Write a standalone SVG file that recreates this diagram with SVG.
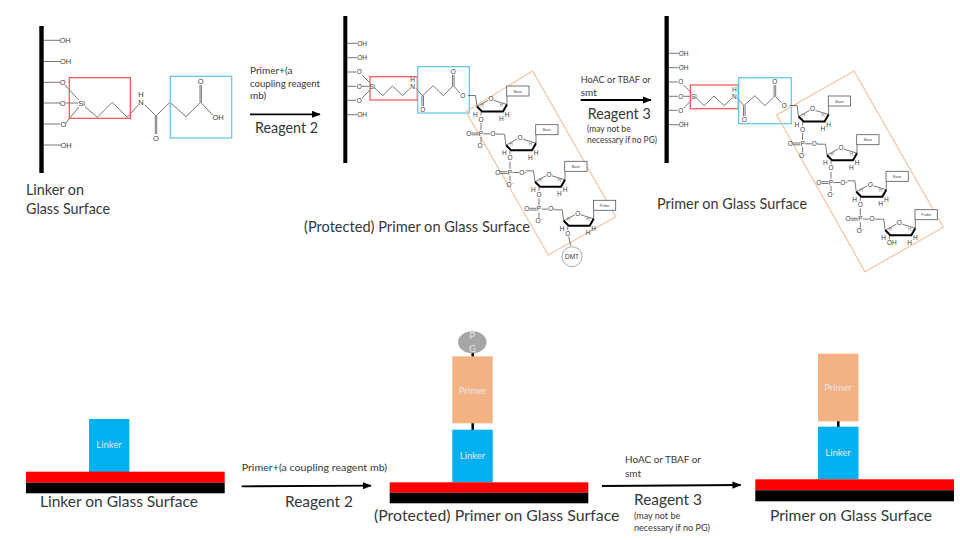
<svg xmlns="http://www.w3.org/2000/svg" xmlns:xlink="http://www.w3.org/1999/xlink" width="960" height="540" viewBox="0 0 960 540">
<style>
text{font-family:"Lato","Liberation Sans",sans-serif;fill:#383838}
.xt{font-size:15px}.xl{font-size:16px}.m{font-size:10px}.s{font-size:8.500px}.s2{font-size:9px}
.c{font-size:6.500px;text-anchor:middle;fill:#3a3a3a;font-family:"Liberation Sans",sans-serif}
.h{font-size:4.500px;text-anchor:middle;fill:#777;font-family:"Liberation Sans",sans-serif}
.lc{font-size:7.500px;text-anchor:middle;fill:#3a3a3a;font-family:"Liberation Sans",sans-serif}
.b{font-size:3.600px;text-anchor:middle;fill:#444;font-family:"Liberation Sans",sans-serif}
.w{font-size:9.500px;text-anchor:middle;fill:#e8e8e8}
.bond{fill:none;stroke:#555;stroke-width:.8}
.bar{fill:#000}
.red{fill:none;stroke:#f05050;stroke-width:1.2}
.blue{fill:none;stroke:#5cc4ee;stroke-width:1.2}
.or{fill:none;stroke:#f4c4a0;stroke-width:1.2}
.arrow{fill:none;stroke:#000;stroke-width:1.800;marker-end:url(#ah)}
</style>
<defs>
<marker id="ah" markerWidth="5" markerHeight="4" refX="4.600" refY="2" orient="auto"><path d="M0,0L5,2L0,4z" fill="#000"/></marker>
<g id="ring">
<path class="bond" d="M-9,-11H-1.500L0,0L11,-6M17,-6L30,-2V-10.500"/>
<path d="M0,0L5,5H26L30,-2" fill="none" stroke="#000" stroke-width="2"/>
<path class="bond" d="M4,5.500V9"/>
<rect x="29.700" y="-20.500" width="22.300" height="10" fill="#fff" stroke="#555" stroke-width=".8"/>
</g>
<path id="po4" class="bond" d="M4,16.500V23.500M4,30.500V36M-5.500,26.500H1.500M-5.500,28.300H1.500M6.500,27.300H13M18.500,27.300H20"/>
<path id="chain" class="bond" d="M347,43.300H357M347,57.700H357M347,72H356M347,86.300H356M347,100.300H356M347,114.700H357M362,75L370,83M362,86.300H369M362,98L370,90M375,88.300L382.700,95.700L392.300,86L402.700,95.700L410,88.300M416,88.300L422.300,95.700L433.300,85.700L443.300,95.700L453.300,85.700L460,93M452.500,85.700V75M454.100,85.700V75M421.900,95.700V106M423.500,95.700V106"/>
</defs>

<g id="connectors">
<path class="arrow" d="M250,114.300H320"/>
<path class="arrow" d="M580.700,100H651"/>
<path class="arrow" d="M241.700,486.300L371,485.700"/>
<path class="arrow" d="M602,486L740.700,485"/>
</g>

<g id="linker-top">
<rect class="bar" x="39.300" y="26" width="4.400" height="147"/>
<path class="bond" d="M43,40.300H60M43,61.500H60M43,82.300H60M43,103H60M43,124H60M43,145H61M65,85L78.700,100M65.700,103H78M65.700,123L79,107M85,106.700L97.300,117.300L112.300,102.300L127.300,117.300L138.300,105M145,105L156,116L170,102.300L186,116.700L200.700,102.300L212.700,115M200,102.300V85M201.400,102.300V85M155.300,116V134M156.700,116V134"/>
<rect class="red" x="69.300" y="77.700" width="61" height="40.600"/>
<rect class="blue" x="170.300" y="76.300" width="61.400" height="61.700"/>
<text class="lc" x="65" y="43">OH</text><text class="lc" x="65.500" y="64">OH</text>
<text class="lc" x="62.700" y="85">O</text><text class="lc" x="62.700" y="106">O</text><text class="lc" x="63.300" y="127">O</text>
<text class="lc" x="66" y="148">OH</text><text class="lc" x="81.700" y="105.500">Si</text>
<text class="lc" x="141" y="105">N</text><text class="lc" x="141" y="97">H</text>
<text class="lc" x="200.700" y="84">O</text><text class="lc" x="156" y="140.700">O</text><text class="lc" x="218" y="119.500">OH</text>
<text class="xt" x="26" y="195" textLength="58" lengthAdjust="spacingAndGlyphs">Linker on</text>
<text class="xt" x="26" y="214" textLength="84" lengthAdjust="spacingAndGlyphs">Glass Surface</text>
</g>

<g id="reagent2-top">
<text class="m" x="250" y="74">Primer+(a</text>
<text class="m" x="250" y="87" textLength="70" lengthAdjust="spacingAndGlyphs">coupling reagent</text>
<text class="m" x="250" y="99">mb)</text>
<text class="xt" x="255" y="133" textLength="63" lengthAdjust="spacingAndGlyphs">Reagent 2</text>
</g>

<g id="primer-protected-top">
<rect class="bar" x="343.300" y="16" width="4" height="147"/>
<use href="#chain" xlink:href="#chain"/>
<rect class="red" x="370" y="76.700" width="47.300" height="23.300"/>
<rect class="blue" x="417.700" y="66.700" width="51.600" height="46.300"/>
<polygon class="or" points="532.700,71 615.700,216.700 548.300,255 466,111.700"/>
<g>
<text class="c" x="362" y="45.600">OH</text><text class="c" x="362" y="60">OH</text>
<text class="c" x="359.300" y="74.300">O</text><text class="c" x="359.300" y="88.600">O</text><text class="c" x="359.300" y="102.600">O</text>
<text class="c" x="362" y="117">OH</text><text class="c" x="372.300" y="88.600">Si</text>
<text class="c" x="412.700" y="88.800">N</text><text class="c" x="412.700" y="81.800">H</text>
<text class="c" x="453.300" y="73.600">O</text><text class="c" x="422.700" y="112">O</text><text class="c" x="462.700" y="98">O</text>
</g>
<g transform="translate(477,106.500)"><use href="#ring" xlink:href="#ring"/><use href="#po4" xlink:href="#po4"/><text class="b" x="40.800" y="-14">Base</text><text class="c" x="14" y="-5.200">O</text><text class="h" x="5" y=".6">H</text><text class="h" x="24.300" y=".6">H</text><text class="c" x="-1.700" y="10">H</text><text class="c" x="24.300" y="14.600">H</text><text class="c" x="30" y="10">H</text><text class="c" x="4" y="15">O</text><text class="c" x="4" y="29.600">P</text><text class="c" x="-8.300" y="29.600">O</text><text class="c" x="4" y="41.600">O⁻</text><text class="c" x="15.700" y="29.600">O</text></g>
<g transform="translate(506,145.200)"><use href="#ring" xlink:href="#ring"/><use href="#po4" xlink:href="#po4"/><text class="b" x="40.800" y="-14">Base</text><text class="c" x="14" y="-5.200">O</text><text class="h" x="5" y=".6">H</text><text class="h" x="24.300" y=".6">H</text><text class="c" x="-1.700" y="10">H</text><text class="c" x="24.300" y="14.600">H</text><text class="c" x="30" y="10">H</text><text class="c" x="4" y="15">O</text><text class="c" x="4" y="29.600">P</text><text class="c" x="-8.300" y="29.600">O</text><text class="c" x="4" y="41.600">O⁻</text><text class="c" x="15.700" y="29.600">O</text></g>
<g transform="translate(535,181.800)"><use href="#ring" xlink:href="#ring"/><use href="#po4" xlink:href="#po4"/><text class="b" x="40.800" y="-14">Base</text><text class="c" x="14" y="-5.200">O</text><text class="h" x="5" y=".6">H</text><text class="h" x="24.300" y=".6">H</text><text class="c" x="-1.700" y="10">H</text><text class="c" x="24.300" y="14.600">H</text><text class="c" x="30" y="10">H</text><text class="c" x="4" y="15">O</text><text class="c" x="4" y="29.600">P</text><text class="c" x="-8.300" y="29.600">O</text><text class="c" x="4" y="41.600">O⁻</text><text class="c" x="15.700" y="29.600">O</text></g>
<g transform="translate(563.700,220.800)"><use href="#ring" xlink:href="#ring"/><text class="b" x="40.800" y="-14">Probe</text><text class="c" x="14" y="-5.200">O</text><text class="h" x="5" y=".6">H</text><text class="h" x="24.300" y=".6">H</text><text class="c" x="-1.700" y="10">H</text><text class="c" x="24.300" y="14.600">H</text><text class="c" x="30" y="10">H</text><text class="c" x="4" y="15">O</text><path class="bond" d="M5,16L7,25"/></g>
<circle cx="572" cy="256.700" r="10" fill="#fff" stroke="#aaa" stroke-width="1"/>
<text class="c" x="572" y="259">DMT</text>
<text class="xt" x="304" y="232" textLength="226" lengthAdjust="spacingAndGlyphs">(Protected) Primer on Glass Surface</text>
</g>

<g id="reagent3-top">
<text class="m" x="580.700" y="83" textLength="70" lengthAdjust="spacingAndGlyphs">HoAC or TBAF or</text>
<text class="m" x="580.700" y="95.700">smt</text>
<text class="xt" x="587.700" y="119" textLength="63" lengthAdjust="spacingAndGlyphs">Reagent 3</text>
<text class="s" x="587" y="132">(may not be</text>
<text class="s" x="587" y="143" textLength="70" lengthAdjust="spacingAndGlyphs">necessary if no PG)</text>
</g>

<g id="primer-top">
<rect class="bar" x="664.500" y="16" width="4.300" height="147"/>
<use href="#chain" xlink:href="#chain" transform="translate(321.600,10)"/>
<rect class="red" x="690.300" y="85" width="48" height="23.700"/>
<rect class="blue" x="738.700" y="77.700" width="52.600" height="46"/>
<polygon class="or" points="854,71 943.300,227.300 865,271.700 776.700,115"/>
<g transform="translate(321.600,10)">
<text class="c" x="362" y="45.600">OH</text><text class="c" x="362" y="60">OH</text>
<text class="c" x="359.300" y="74.300">O</text><text class="c" x="359.300" y="88.600">O</text><text class="c" x="359.300" y="102.600">O</text>
<text class="c" x="362" y="117">OH</text><text class="c" x="372.300" y="88.600">Si</text>
<text class="c" x="412.700" y="88.800">N</text><text class="c" x="412.700" y="81.800">H</text>
<text class="c" x="453.300" y="73.600">O</text><text class="c" x="422.700" y="112">O</text><text class="c" x="462.700" y="98">O</text>
</g>
<g transform="translate(798.600,116.500)"><use href="#ring" xlink:href="#ring"/><use href="#po4" xlink:href="#po4"/><text class="b" x="40.800" y="-14">Base</text><text class="c" x="14" y="-5.200">O</text><text class="h" x="5" y=".6">H</text><text class="h" x="24.300" y=".6">H</text><text class="c" x="-1.700" y="10">H</text><text class="c" x="24.300" y="14.600">H</text><text class="c" x="30" y="10">H</text><text class="c" x="4" y="15">O</text><text class="c" x="4" y="29.600">P</text><text class="c" x="-8.300" y="29.600">O</text><text class="c" x="4" y="41.600">O⁻</text><text class="c" x="15.700" y="29.600">O</text></g>
<g transform="translate(827,155.200)"><use href="#ring" xlink:href="#ring"/><use href="#po4" xlink:href="#po4"/><text class="b" x="40.800" y="-14">Base</text><text class="c" x="14" y="-5.200">O</text><text class="h" x="5" y=".6">H</text><text class="h" x="24.300" y=".6">H</text><text class="c" x="-1.700" y="10">H</text><text class="c" x="24.300" y="14.600">H</text><text class="c" x="30" y="10">H</text><text class="c" x="4" y="15">O</text><text class="c" x="4" y="29.600">P</text><text class="c" x="-8.300" y="29.600">O</text><text class="c" x="4" y="41.600">O⁻</text><text class="c" x="15.700" y="29.600">O</text></g>
<g transform="translate(856.300,191.800)"><use href="#ring" xlink:href="#ring"/><use href="#po4" xlink:href="#po4"/><text class="b" x="40.800" y="-14">Base</text><text class="c" x="14" y="-5.200">O</text><text class="h" x="5" y=".6">H</text><text class="h" x="24.300" y=".6">H</text><text class="c" x="-1.700" y="10">H</text><text class="c" x="24.300" y="14.600">H</text><text class="c" x="30" y="10">H</text><text class="c" x="4" y="15">O</text><text class="c" x="4" y="29.600">P</text><text class="c" x="-8.300" y="29.600">O</text><text class="c" x="4" y="41.600">O⁻</text><text class="c" x="15.700" y="29.600">O</text></g>
<g transform="translate(885.300,230.200)"><use href="#ring" xlink:href="#ring"/><text class="b" x="40.800" y="-14">Probe</text><text class="c" x="14" y="-5.200">O</text><text class="h" x="5" y=".6">H</text><text class="h" x="24.300" y=".6">H</text><text class="c" x="-1.700" y="10">H</text><text class="c" x="24.300" y="14.600">H</text><text class="c" x="30" y="10">H</text><text class="c" x="6.500" y="15">OH</text></g>
<text class="xt" x="657" y="209" textLength="150" lengthAdjust="spacingAndGlyphs">Primer on Glass Surface</text>
</g>

<g id="linker-bottom">
<rect x="89" y="419" width="40.300" height="53" fill="#00b0f0"/>
<text class="w" x="109" y="448">Linker</text>
<rect x="26" y="471.700" width="198.700" height="11" fill="#f00"/>
<rect x="26" y="482.700" width="198.700" height="10.600" fill="#000"/>
<text class="xl" x="40" y="507" textLength="158" lengthAdjust="spacingAndGlyphs">Linker on Glass Surface</text>
</g>

<g id="reagent2-bottom">
<text class="m" x="241.700" y="471" textLength="145.500" lengthAdjust="spacingAndGlyphs">Primer+(a coupling reagent mb)</text>
<text class="xl" x="285" y="507" textLength="68" lengthAdjust="spacingAndGlyphs">Reagent 2</text>
</g>

<g id="primer-protected-bottom">
<path d="M472.700,351V357M472.700,423V430" stroke="#000" stroke-width="2.500" fill="none"/>
<ellipse cx="472.300" cy="342.300" rx="14.300" ry="11" fill="#a6a6a6"/>
<text class="w" x="472" y="339">P</text><text class="w" x="472.500" y="352">G</text>
<rect x="452.300" y="356.300" width="40.400" height="67" fill="#f4b183"/>
<text class="w" x="472.500" y="394">Primer</text>
<rect x="452.300" y="429.700" width="40.400" height="52.600" fill="#00b0f0"/>
<text class="w" x="472.500" y="459">Linker</text>
<rect x="389.700" y="482.300" width="198.600" height="10.400" fill="#f00"/>
<rect x="389.700" y="492.700" width="198.600" height="10.600" fill="#000"/>
<text class="xl" x="374" y="521" textLength="245.500" lengthAdjust="spacingAndGlyphs">(Protected) Primer on Glass Surface</text>
</g>

<g id="reagent3-bottom">
<text class="m" x="625" y="462.700" textLength="76" lengthAdjust="spacingAndGlyphs">HoAC or TBAF or</text>
<text class="m" x="625" y="476.700">smt</text>
<text class="xl" x="634" y="505" textLength="68" lengthAdjust="spacingAndGlyphs">Reagent 3</text>
<text class="s2" x="634" y="519">(may not be</text>
<text class="s2" x="634" y="531" textLength="76" lengthAdjust="spacingAndGlyphs">necessary if no PG)</text>
</g>

<g id="primer-bottom">
<path d="M838.300,421V428" stroke="#000" stroke-width="2.500" fill="none"/>
<rect x="818" y="353.700" width="40.500" height="67.600" fill="#f4b183"/>
<text class="w" x="838" y="391">Primer</text>
<rect x="818" y="426.700" width="40.500" height="52.600" fill="#00b0f0"/>
<text class="w" x="838" y="456">Linker</text>
<rect x="755.300" y="479.300" width="198.700" height="11" fill="#f00"/>
<rect x="755.300" y="490.300" width="198.700" height="11" fill="#000"/>
<text class="xl" x="770" y="521" textLength="162" lengthAdjust="spacingAndGlyphs">Primer on Glass Surface</text>
</g>
</svg>
